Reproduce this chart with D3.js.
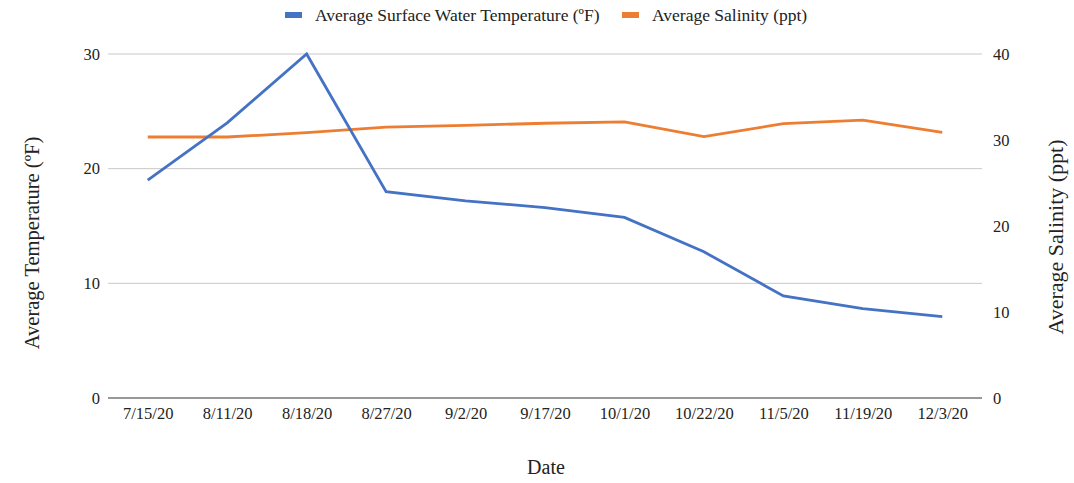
<!DOCTYPE html>
<html>
<head>
<meta charset="utf-8">
<script src="https://cdn.jsdelivr.net/npm/d3@7"></script>
<style>
  body { margin: 0; background: #fff; }
  text { font-family: "Liberation Serif", "Times New Roman", serif; fill: #222; }
</style>
</head>
<body>
<div id="screen"></div>
<script>
// dates on the x axis
var dates = ["7/15/20", "8/11/20", "8/18/20", "8/27/20", "9/2/20", "9/17/20", "10/1/20", "10/22/20", "11/5/20", "11/19/20", "12/3/20"];

// average surface water temperature (left axis)
var tempValues = [19, 24, 30, 18, 17.2, 16.6, 15.75, 12.75, 8.9, 7.8, 7.1];

// average salinity (right axis)
var salinityValues = [30.35, 30.35, 30.85, 31.5, 31.7, 31.95, 32.1, 30.4, 31.9, 32.3, 30.9];

var leftTicks = [0, 10, 20, 30];
var rightTicks = [0, 10, 20, 30, 40];

var WIDTH = 1074;
var HEIGHT = 483;

// plot area
var PLOT_L = 108, PLOT_R = 982, PLOT_T = 54, PLOT_B = 398;

var svg = d3.select("#screen")
  .append("svg")
  .attr("width", WIDTH)
  .attr("height", HEIGHT);

var x = d3.scalePoint().domain(dates).range([PLOT_L, PLOT_R]).padding(0.5);
var yL = d3.scaleLinear().domain([0, 30]).range([PLOT_B, PLOT_T]);
var yR = d3.scaleLinear().domain([0, 40]).range([PLOT_B, PLOT_T]);

// gridlines (from the left axis)
svg.append("g")
  .selectAll("line")
  .data(leftTicks.filter(d => d > 0))
  .enter()
  .append("line")
  .attr("x1", PLOT_L).attr("x2", PLOT_R)
  .attr("y1", d => yL(d)).attr("y2", d => yL(d))
  .attr("stroke", "#c8c8c8")
  .attr("stroke-width", 1);

// baseline
svg.append("line")
  .attr("x1", PLOT_L).attr("x2", PLOT_R)
  .attr("y1", PLOT_B).attr("y2", PLOT_B)
  .attr("stroke", "#333")
  .attr("stroke-width", 1.2);

// left axis
var leftAxis = svg.append("g")
  .attr("transform", "translate(" + (PLOT_L - 8) + ",0)")
  .call(d3.axisLeft(yL).tickValues(leftTicks).tickSize(0).tickPadding(0));
leftAxis.select(".domain").remove();
leftAxis.selectAll("text").attr("font-size", 16.5).attr("font-family", "Liberation Serif").attr("fill", "#222");

// right axis
var rightAxis = svg.append("g")
  .attr("transform", "translate(" + (PLOT_R + 11) + ",0)")
  .call(d3.axisRight(yR).tickValues(rightTicks).tickSize(0).tickPadding(0));
rightAxis.select(".domain").remove();
rightAxis.selectAll("text").attr("font-size", 16.5).attr("font-family", "Liberation Serif").attr("fill", "#222");

// bottom axis labels
var bottomAxis = svg.append("g")
  .attr("transform", "translate(0," + (PLOT_B + 9) + ")")
  .call(d3.axisBottom(x).tickSize(0).tickPadding(0));
bottomAxis.select(".domain").remove();
bottomAxis.selectAll("text").attr("font-size", 16.5).attr("font-family", "Liberation Serif").attr("fill", "#222");

// lines
var tempLine = d3.line()
  .x((d, i) => x(dates[i]))
  .y(d => yL(d));
var salLine = d3.line()
  .x((d, i) => x(dates[i]))
  .y(d => yR(d));

svg.append("path")
  .datum(salinityValues)
  .attr("d", salLine)
  .attr("fill", "none")
  .attr("stroke", "#ED7D31")
  .attr("stroke-width", 2.8);

svg.append("path")
  .datum(tempValues)
  .attr("d", tempLine)
  .attr("fill", "none")
  .attr("stroke", "#4472C4")
  .attr("stroke-width", 2.8);

// axis titles
svg.append("text")
  .attr("transform", "translate(39,243) rotate(-90)")
  .attr("text-anchor", "middle")
  .attr("font-size", 20.5)
  .text("Average Temperature (ºF)");

svg.append("text")
  .attr("transform", "translate(1063,237) rotate(-90)")
  .attr("text-anchor", "middle")
  .attr("font-size", 22)
  .text("Average Salinity (ppt)");

svg.append("text")
  .attr("x", 546)
  .attr("y", 474)
  .attr("text-anchor", "middle")
  .attr("font-size", 20)
  .text("Date");

// legend
var legendItems = [
  { name: "Average Surface Water Temperature (ºF)", color: "#4472C4", x: 285 },
  { name: "Average Salinity (ppt)", color: "#ED7D31", x: 622 }
];
var legend = svg.selectAll(".legend")
  .data(legendItems)
  .enter()
  .append("g")
  .attr("transform", d => "translate(" + d.x + ",0)");
legend.append("rect")
  .attr("x", 0).attr("y", 12)
  .attr("width", 17).attr("height", 6)
  .attr("fill", d => d.color);
legend.append("text")
  .attr("x", 30).attr("y", 21)
  .attr("font-size", 17.5)
  .text(d => d.name);
</script>
</body>
</html>
